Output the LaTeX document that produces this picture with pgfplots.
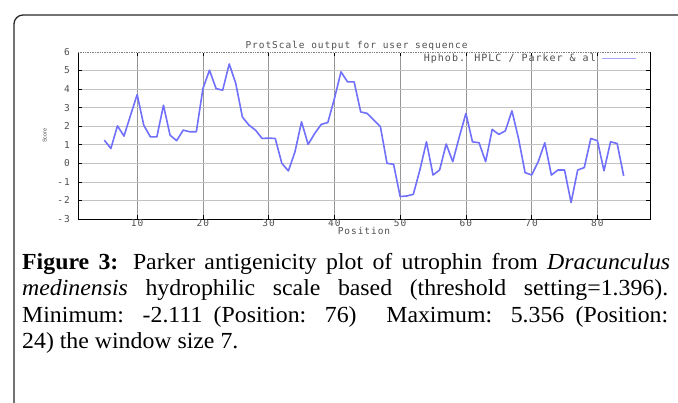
\documentclass[border=0pt]{standalone}
\usepackage{fontspec}
\setmainfont{Liberation Serif}[FakeStretch=1.035]
\newfontfamily\gnu[LetterSpace=10]{DejaVu Sans Mono}
\newfontfamily\gsans{Liberation Sans}
\usepackage{pgfplots}
\pgfplotsset{compat=1.18}
\usepackage{pgfplotstable}
\definecolor{dline}{RGB}{112,112,252}
\definecolor{lline}{RGB}{165,165,255}
\definecolor{vgrid}{RGB}{150,150,150}
\definecolor{hgrid}{RGB}{195,195,195}
\definecolor{gtext}{RGB}{80,80,80}
\definecolor{frame}{RGB}{40,40,40}
\pgfplotstableread{
x y
5 1.25
6 0.80
7 2.02
8 1.47
9 2.60
10 3.71
11 2.06
12 1.43
13 1.43
14 3.13
15 1.52
16 1.22
17 1.79
18 1.70
19 1.70
20 4.03
21 5.02
22 4.03
23 3.94
24 5.356
25 4.30
26 2.50
27 2.06
28 1.79
29 1.34
30 1.36
31 1.34
32 0.00
33 -0.41
34 0.62
35 2.24
36 1.02
37 1.61
38 2.10
39 2.20
40 3.49
41 4.93
42 4.39
43 4.39
44 2.77
45 2.69
46 2.33
47 1.97
48 0.00
49 -0.05
50 -1.79
51 -1.76
52 -1.67
53 -0.36
54 1.16
55 -0.63
56 -0.36
57 1.04
58 0.09
59 1.43
60 2.69
61 1.16
62 1.11
63 0.09
64 1.83
65 1.56
66 1.75
67 2.83
68 1.34
69 -0.50
70 -0.63
71 0.09
72 1.11
73 -0.63
74 -0.36
75 -0.36
76 -2.111
77 -0.36
78 -0.23
79 1.34
80 1.22
81 -0.40
82 1.16
83 1.07
84 -0.68
}\parker
\begin{document}
\begin{tikzpicture}
\useasboundingbox (0,0) rectangle (678pt,-402pt);
\fill[white] (0,0) rectangle (678pt,-402pt);
\clip (0,0) rectangle (678pt,-402pt);
\draw[frame, line width=1.3pt, rounded corners=9pt] (14pt,-410pt) -- (14pt,-15pt) -- (690pt,-15pt);
\begin{axis}[
  at={(78pt,-219pt)}, anchor=south west,
  width=572pt, height=167pt, scale only axis,
  xmin=1, xmax=88, ymin=-3, ymax=6,
  clip mode=individual,
  xtick={10,20,...,80}, ytick={-3,-2,...,6},
  axis line style={black, line width=0.8pt},
  tick style={black, line width=0.6pt},
  major tick length=4pt,
  tick align=inside,
  xmajorgrids, ymajorgrids,
  x grid style={vgrid, line width=0.7pt},
  y grid style={hgrid, line width=0.7pt},
  /pgf/number format/assume math mode=true,
  ticklabel style={font=\gnu\fontsize{9.5}{9.5}\selectfont, text=gtext},
  xticklabel style={anchor=center, inner sep=0pt, yshift=-4.5pt},
  yticklabel style={anchor=east, inner sep=0pt, xshift=-8pt},
  xlabel={Position},
  xlabel style={font=\gnu\fontsize{9.5}{9.5}\selectfont, text=gtext, at={(axis description cs:0.5,-0.072)}, anchor=center, inner sep=0pt},
  ylabel={Score},
  ylabel style={font=\gsans\fontsize{5.5}{5.5}\selectfont, text=gtext, at={(axis description cs:-0.058,0.5)}, anchor=center, inner sep=0pt},
  legend plot pos=right,
  legend image code/.code={\draw[lline, line width=1pt] (0pt,0pt) -- (34pt,0pt);},
  legend style={draw=none, fill=none, at={(axis description cs:1,1)}, anchor=north east, xshift=-13pt, yshift=-0.5pt, inner sep=0pt, column sep=5pt, nodes={inner sep=1pt}, font=\gnu\fontsize{10}{10}\selectfont, text=gtext},
]
\addplot[dline, line width=1.6pt, line join=round] table[x=x, y=y] {\parker};
\addlegendentry{Hphob. HPLC / Parker \& al}
\draw[white, line width=0.9pt] (axis description cs:0,1) -- (axis description cs:1,1);
\draw[gray, line width=0.7pt, densely dotted] (axis description cs:0,1) -- (axis description cs:1,1);
\node[font=\gnu\fontsize{9.5}{9.5}\selectfont, text=gtext, inner sep=0pt, anchor=center] at (axis description cs:0.487,1.036) {ProtScale output for user sequence};
\end{axis}
\fontsize{23}{26.5}\selectfont
\node[anchor=base west, inner sep=0pt] at (22pt,-269pt) {\makebox[648pt][s]{\textbf{Figure 3:} Parker antigenicity plot of utrophin from \textit{Dracunculus}}};
\node[anchor=base west, inner sep=0pt] at (22pt,-295.5pt) {\makebox[646pt][s]{\textit{medinensis} hydrophilic scale based (threshold setting=1.396).}};
\node[anchor=base west, inner sep=0pt] at (22pt,-322pt) {\makebox[646pt][s]{Minimum: -2.111 (Position: 76)\hspace{0.8em} Maximum: 5.356 (Position:}};
\node[anchor=base west, inner sep=0pt] at (22pt,-348.5pt) {24) the window size 7.};
\end{tikzpicture}
\end{document}
